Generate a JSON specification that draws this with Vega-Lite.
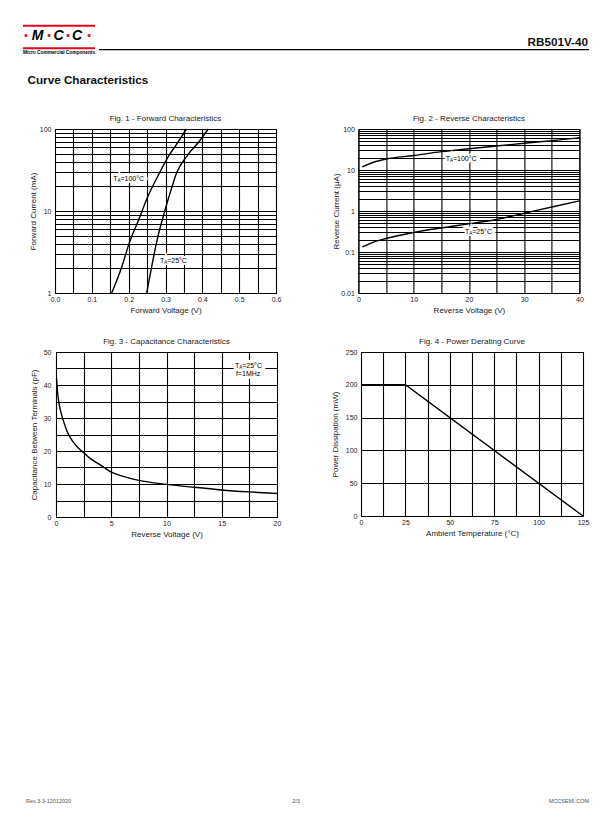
{
  "$schema": "https://vega.github.io/schema/vega-lite/v6.json",
  "padding": 0,
  "background": "white",
  "config": {
    "font": "Liberation Sans",
    "view": {"stroke": "black", "strokeWidth": 1},
    "axis": {"domain": false, "ticks": false, "grid": true, "gridColor": "black", "gridWidth": 1.1, "gridOpacity": 1,
      "labelFont": "Liberation Sans", "labelFontSize": 7, "labelColor": "#222",
      "titleFont": "Liberation Sans", "titleFontSize": 8, "titleFontWeight": "normal", "titleColor": "#222",
      "labelOverlap": false, "labelFlush": false, "labelBound": false},
    "axisX": {"labelPadding": 2, "titlePadding": 4},
    "axisY": {"labelPadding": 4},
    "title": {"fontSize": 8, "fontWeight": "normal", "font": "Liberation Sans", "color": "#222", "offset": 2.5},
    "text": {"font": "Liberation Sans"}
  },
  "datasets": {
    "hdrText": [
      {"k": "logo", "x": 36.5, "y": 34.5, "s": "M"},
      {"k": "logo", "x": 57.5, "y": 34.5, "s": "C"},
      {"k": "logo", "x": 76, "y": 34.5, "s": "C"},
      {"k": "tag", "x": 58, "y": 51.5, "s": "Micro Commercial Components"},
      {"k": "part", "x": 587, "y": 40.5, "s": "RB501V-40"},
      {"k": "section", "x": 26.5, "y": 79, "s": "Curve Characteristics"}
    ],
    "hdrDots": [{"x": 25, "y": 34.5}, {"x": 48, "y": 34.5}, {"x": 67, "y": 34.5}, {"x": 88, "y": 34.5}],
    "hdrRules": [
      {"k": "red", "x": 22, "x2": 94, "y": 24.7},
      {"k": "red", "x": 22, "x2": 94, "y": 47.3},
      {"k": "black", "x": 98, "x2": 588, "y": 48.7}
    ],
    "ftrText": [
      {"k": "left", "x": 25, "y": 800, "s": "Rev.3-3-12012020"},
      {"k": "center", "x": 295, "y": 800, "s": "2/3"},
      {"k": "right", "x": 588, "y": 800, "s": "MCCSEMI.COM"}
    ],
    "fig1": [
      {"t": "100", "v": 0.154, "i": 1}, {"t": "100", "v": 0.18, "i": 2}, {"t": "100", "v": 0.201, "i": 4},
      {"t": "100", "v": 0.228, "i": 8}, {"t": "100", "v": 0.252, "i": 15}, {"t": "100", "v": 0.28, "i": 27},
      {"t": "100", "v": 0.31, "i": 48}, {"t": "100", "v": 0.33, "i": 65}, {"t": "100", "v": 0.357, "i": 100},
      {"t": "25", "v": 0.249, "i": 1}, {"t": "25", "v": 0.265, "i": 2.4}, {"t": "25", "v": 0.28, "i": 5},
      {"t": "25", "v": 0.298, "i": 10}, {"t": "25", "v": 0.315, "i": 18}, {"t": "25", "v": 0.33, "i": 29},
      {"t": "25", "v": 0.36, "i": 48}, {"t": "25", "v": 0.394, "i": 73}, {"t": "25", "v": 0.416, "i": 100}
    ],
    "lab1": [{"v": 0.158, "i": 24.4, "rest": "=100°C"}, {"v": 0.285, "i": 2.43, "rest": "=25°C"}],
    "fig2": [
      {"t": "100", "v": 0.7, "i": 11.9}, {"t": "100", "v": 2.5, "i": 15}, {"t": "100", "v": 5, "i": 18.5},
      {"t": "100", "v": 10, "i": 22.5}, {"t": "100", "v": 15, "i": 28}, {"t": "100", "v": 20, "i": 33},
      {"t": "100", "v": 25, "i": 38.5}, {"t": "100", "v": 30, "i": 45}, {"t": "100", "v": 35, "i": 52},
      {"t": "100", "v": 40, "i": 61},
      {"t": "25", "v": 0.7, "i": 0.133}, {"t": "25", "v": 2.5, "i": 0.17}, {"t": "25", "v": 5, "i": 0.214},
      {"t": "25", "v": 10, "i": 0.3}, {"t": "25", "v": 15, "i": 0.386}, {"t": "25", "v": 20, "i": 0.485},
      {"t": "25", "v": 25, "i": 0.62}, {"t": "25", "v": 30, "i": 0.88}, {"t": "25", "v": 35, "i": 1.25},
      {"t": "25", "v": 40, "i": 1.77}
    ],
    "lab2": [{"v": 15.8, "i": 18.7, "rest": "=100°C"}, {"v": 19.3, "i": 0.3, "rest": "=25°C"}],
    "fig3": [
      {"v": 0.05, "c": 42}, {"v": 0.15, "c": 37.5}, {"v": 0.3, "c": 34}, {"v": 0.5, "c": 31},
      {"v": 0.75, "c": 28.3}, {"v": 1, "c": 26}, {"v": 1.5, "c": 23}, {"v": 2, "c": 21},
      {"v": 2.5, "c": 19.5}, {"v": 3, "c": 18}, {"v": 4, "c": 15.8}, {"v": 5, "c": 13.6},
      {"v": 6, "c": 12.4}, {"v": 7.5, "c": 11.1}, {"v": 10, "c": 9.9}, {"v": 12.5, "c": 9},
      {"v": 15, "c": 8.2}, {"v": 17.5, "c": 7.6}, {"v": 20, "c": 7.1}
    ],
    "lab3": [{"k": "t", "v": 16.2, "c": 45.9, "rest": "=25°C"}, {"k": "f", "v": 16.2, "c": 43.2, "rest": "f=1MHz"}],
    "fig4": [{"t": 0, "p": 200}, {"t": 25, "p": 200}, {"t": 125, "p": 0}]
  },
  "vconcat": [
    {
      "width": 588, "height": 90,
      "view": {"stroke": "transparent"},
      "layer": [
        {"data": {"name": "hdrRules"}, "transform": [{"filter": "datum.k == 'red'"}],
          "mark": {"type": "rule", "color": "#e3001b", "strokeWidth": 2},
          "encoding": {
            "x": {"field": "x", "type": "quantitative", "scale": {"domain": [0, 588], "nice": false, "zero": false}, "axis": null},
            "x2": {"field": "x2"},
            "y": {"field": "y", "type": "quantitative", "scale": {"domain": [0, 90], "nice": false, "zero": false, "reverse": true}, "axis": null}
          }},
        {"data": {"name": "hdrRules"}, "transform": [{"filter": "datum.k == 'black'"}],
          "mark": {"type": "rule", "color": "black", "strokeWidth": 1.2},
          "encoding": {"x": {"field": "x", "type": "quantitative"}, "x2": {"field": "x2"}, "y": {"field": "y", "type": "quantitative"}}},
        {"data": {"name": "hdrDots"},
          "mark": {"type": "square", "color": "#e3001b", "size": 7, "opacity": 1},
          "encoding": {"x": {"field": "x", "type": "quantitative"}, "y": {"field": "y", "type": "quantitative"}}},
        {"data": {"name": "hdrText"}, "transform": [{"filter": "datum.k == 'logo'"}],
          "mark": {"type": "text", "fontSize": 14, "fontWeight": "bold", "fontStyle": "italic", "align": "center", "baseline": "middle", "color": "black"},
          "encoding": {"x": {"field": "x", "type": "quantitative"}, "y": {"field": "y", "type": "quantitative"}, "text": {"field": "s"}}},
        {"data": {"name": "hdrText"}, "transform": [{"filter": "datum.k == 'tag'"}],
          "mark": {"type": "text", "fontSize": 4.8, "fontWeight": "bold", "align": "center", "baseline": "middle", "color": "black"},
          "encoding": {"x": {"field": "x", "type": "quantitative"}, "y": {"field": "y", "type": "quantitative"}, "text": {"field": "s"}}},
        {"data": {"name": "hdrText"}, "transform": [{"filter": "datum.k == 'part'"}],
          "mark": {"type": "text", "fontSize": 11.7, "fontWeight": "bold", "align": "right", "baseline": "middle", "color": "#111"},
          "encoding": {"x": {"field": "x", "type": "quantitative"}, "y": {"field": "y", "type": "quantitative"}, "text": {"field": "s"}}},
        {"data": {"name": "hdrText"}, "transform": [{"filter": "datum.k == 'section'"}],
          "mark": {"type": "text", "fontSize": 11.7, "fontWeight": "bold", "align": "left", "baseline": "middle", "color": "#111"},
          "encoding": {"x": {"field": "x", "type": "quantitative"}, "y": {"field": "y", "type": "quantitative"}, "text": {"field": "s"}}}
      ]
    },
    {
      "hconcat": [
        {"width": 26, "height": 1, "view": {"stroke": "transparent"}, "data": {"values": [{}]}, "mark": {"type": "point", "opacity": 0}},
        {
          "hconcat": [
            {
              "width": 221, "height": 164,
              "title": "Fig. 1 - Forward Characteristics",
              "layer": [
                {"data": {"name": "fig1"},
                  "mark": {"type": "line", "color": "black", "strokeWidth": 1.4, "interpolate": "monotone"},
                  "encoding": {
                    "x": {"field": "v", "type": "quantitative", "scale": {"domain": [0, 0.6], "nice": false, "zero": false},
                      "axis": {"title": "Forward Voltage (V)", "tickCount": 100, "labelOverlap": false, "values": [0, 0.05, 0.1, 0.15, 0.2, 0.25, 0.3, 0.35, 0.4, 0.45, 0.5, 0.55, 0.6],
                        "labelExpr": "abs(datum.value*10 - round(datum.value*10)) < 1e-6 ? format(datum.value, '.1f') : ''"}},
                    "y": {"field": "i", "type": "quantitative", "scale": {"type": "log", "domain": [1, 100], "nice": false},
                      "axis": {"title": "Forward Current (mA)", "tickCount": 100, "labelOverlap": false, "titlePadding": 2, "values": [1, 2, 3, 4, 5, 6, 7, 8, 9, 10, 20, 30, 40, 50, 60, 70, 80, 90, 100],
                        "labelExpr": "abs(log(datum.value)/LN10 - round(log(datum.value)/LN10)) < 1e-6 ? format(datum.value, '~g') : ''"}},
                    "detail": {"field": "t"}
                  }},
                {"data": {"name": "lab1"}, "transform": [{"calculate": "'TA' + datum.rest", "as": "full"}],
                  "mark": {"type": "text", "align": "left", "baseline": "middle", "fontSize": 7, "fill": "white", "stroke": "white", "strokeWidth": 4},
                  "encoding": {"x": {"field": "v", "type": "quantitative"}, "y": {"field": "i", "type": "quantitative"}, "text": {"field": "full"}}},
                {"data": {"name": "lab1"},
                  "mark": {"type": "text", "align": "left", "baseline": "middle", "fontSize": 7, "color": "black", "text": "T"},
                  "encoding": {"x": {"field": "v", "type": "quantitative"}, "y": {"field": "i", "type": "quantitative"}}},
                {"data": {"name": "lab1"},
                  "mark": {"type": "text", "align": "left", "baseline": "middle", "fontSize": 4.5, "color": "black", "text": "A", "dx": 4.2, "dy": 2},
                  "encoding": {"x": {"field": "v", "type": "quantitative"}, "y": {"field": "i", "type": "quantitative"}}},
                {"data": {"name": "lab1"},
                  "mark": {"type": "text", "align": "left", "baseline": "middle", "fontSize": 7, "color": "black", "dx": 7.2},
                  "encoding": {"x": {"field": "v", "type": "quantitative"}, "y": {"field": "i", "type": "quantitative"}, "text": {"field": "rest"}}}
              ]
            },
            {
              "width": 221, "height": 164,
              "title": "Fig. 2 - Reverse Characteristics",
              "layer": [
                {"data": {"name": "fig2"},
                  "mark": {"type": "line", "color": "black", "strokeWidth": 1.4, "interpolate": "monotone"},
                  "encoding": {
                    "x": {"field": "v", "type": "quantitative", "scale": {"domain": [0, 40], "nice": false, "zero": false},
                      "axis": {"title": "Reverse Voltage (V)", "tickCount": 100, "labelOverlap": false, "values": [0, 5, 10, 15, 20, 25, 30, 35, 40],
                        "labelExpr": "datum.value % 10 == 0 ? format(datum.value, 'd') : ''"}},
                    "y": {"field": "i", "type": "quantitative", "scale": {"type": "log", "domain": [0.01, 100], "nice": false},
                      "axis": {"title": "Reverse Current (μA)", "tickCount": 100, "labelOverlap": false, "titlePadding": 0.6,
                        "values": [0.01, 0.02, 0.03, 0.04, 0.05, 0.06, 0.07, 0.08, 0.09, 0.1, 0.2, 0.3, 0.4, 0.5, 0.6, 0.7, 0.8, 0.9, 1, 2, 3, 4, 5, 6, 7, 8, 9, 10, 20, 30, 40, 50, 60, 70, 80, 90, 100],
                        "labelExpr": "abs(log(datum.value)/LN10 - round(log(datum.value)/LN10)) < 1e-6 ? format(datum.value, '~g') : ''"}},
                    "detail": {"field": "t"}
                  }},
                {"data": {"name": "lab2"}, "transform": [{"calculate": "'TA' + datum.rest", "as": "full"}],
                  "mark": {"type": "text", "align": "left", "baseline": "middle", "fontSize": 7, "fill": "white", "stroke": "white", "strokeWidth": 4},
                  "encoding": {"x": {"field": "v", "type": "quantitative"}, "y": {"field": "i", "type": "quantitative"}, "text": {"field": "full"}}},
                {"data": {"name": "lab2"},
                  "mark": {"type": "text", "align": "left", "baseline": "middle", "fontSize": 7, "color": "black", "text": "T"},
                  "encoding": {"x": {"field": "v", "type": "quantitative"}, "y": {"field": "i", "type": "quantitative"}}},
                {"data": {"name": "lab2"},
                  "mark": {"type": "text", "align": "left", "baseline": "middle", "fontSize": 4.5, "color": "black", "text": "A", "dx": 4.2, "dy": 2},
                  "encoding": {"x": {"field": "v", "type": "quantitative"}, "y": {"field": "i", "type": "quantitative"}}},
                {"data": {"name": "lab2"},
                  "mark": {"type": "text", "align": "left", "baseline": "middle", "fontSize": 7, "color": "black", "dx": 7.2},
                  "encoding": {"x": {"field": "v", "type": "quantitative"}, "y": {"field": "i", "type": "quantitative"}, "text": {"field": "rest"}}}
              ]
            }
          ],
          "spacing": 49.4
        }
      ],
      "spacing": 0
    },
    {
      "hconcat": [
        {"width": 26.7, "height": 1, "view": {"stroke": "transparent"}, "data": {"values": [{}]}, "mark": {"type": "point", "opacity": 0}},
        {
          "hconcat": [
            {
              "width": 221, "height": 165,
              "title": "Fig. 3 - Capacitance Characteristics",
              "layer": [
                {"data": {"name": "fig3"},
                  "mark": {"type": "line", "color": "black", "strokeWidth": 1.4, "interpolate": "monotone"},
                  "encoding": {
                    "x": {"field": "v", "type": "quantitative", "scale": {"domain": [0, 20], "nice": false, "zero": false},
                      "axis": {"title": "Reverse Voltage (V)", "tickCount": 100, "labelOverlap": false, "values": [0, 2.5, 5, 7.5, 10, 12.5, 15, 17.5, 20],
                        "labelExpr": "datum.value % 5 == 0 ? format(datum.value, 'd') : ''"}},
                    "y": {"field": "c", "type": "quantitative", "scale": {"domain": [0, 50], "nice": false},
                      "axis": {"title": "Capacitance Between Terminals (pF)", "tickCount": 100, "labelOverlap": false, "titlePadding": 5, "labelPadding": 5,
                        "values": [0, 5, 10, 15, 20, 25, 30, 35, 40, 45, 50],
                        "labelExpr": "datum.value % 10 == 0 ? format(datum.value, 'd') : ''"}}
                  }},
                {"data": {"name": "lab3"}, "transform": [{"calculate": "datum.k == 't' ? 'TA' + datum.rest : datum.rest", "as": "full"}],
                  "mark": {"type": "text", "align": "left", "baseline": "middle", "fontSize": 7, "fill": "white", "stroke": "white", "strokeWidth": 6},
                  "encoding": {"x": {"field": "v", "type": "quantitative"}, "y": {"field": "c", "type": "quantitative"}, "text": {"field": "full"}}},
                {"data": {"name": "lab3"}, "transform": [{"filter": "datum.k == 't'"}],
                  "mark": {"type": "text", "align": "left", "baseline": "middle", "fontSize": 7, "color": "black", "text": "T"},
                  "encoding": {"x": {"field": "v", "type": "quantitative"}, "y": {"field": "c", "type": "quantitative"}}},
                {"data": {"name": "lab3"}, "transform": [{"filter": "datum.k == 't'"}],
                  "mark": {"type": "text", "align": "left", "baseline": "middle", "fontSize": 4.5, "color": "black", "text": "A", "dx": 4.2, "dy": 2},
                  "encoding": {"x": {"field": "v", "type": "quantitative"}, "y": {"field": "c", "type": "quantitative"}}},
                {"data": {"name": "lab3"}, "transform": [{"filter": "datum.k == 't'"}],
                  "mark": {"type": "text", "align": "left", "baseline": "middle", "fontSize": 7, "color": "black", "dx": 7.2},
                  "encoding": {"x": {"field": "v", "type": "quantitative"}, "y": {"field": "c", "type": "quantitative"}, "text": {"field": "rest"}}},
                {"data": {"name": "lab3"}, "transform": [{"filter": "datum.k == 'f'"}],
                  "mark": {"type": "text", "align": "left", "baseline": "middle", "fontSize": 7, "color": "black", "dx": 1},
                  "encoding": {"x": {"field": "v", "type": "quantitative"}, "y": {"field": "c", "type": "quantitative"}, "text": {"field": "rest"}}}
              ]
            },
            {
              "width": 222, "height": 164,
              "title": "Fig. 4 - Power Derating Curve",
              "data": {"name": "fig4"},
              "mark": {"type": "line", "color": "black", "strokeWidth": 1.4},
              "encoding": {
                "x": {"field": "t", "type": "quantitative", "scale": {"domain": [0, 125], "nice": false, "zero": false},
                  "axis": {"title": "Ambient Temperature (°C)", "tickCount": 100, "labelOverlap": false, "values": [0, 12.5, 25, 37.5, 50, 62.5, 75, 87.5, 100, 112.5, 125],
                    "labelExpr": "datum.value % 25 == 0 ? format(datum.value, 'd') : ''"}},
                "y": {"field": "p", "type": "quantitative", "scale": {"domain": [0, 250], "nice": false},
                  "axis": {"title": "Power Dissipation (mW)", "tickCount": 100, "labelOverlap": false, "titlePadding": 6, "values": [0, 50, 100, 150, 200, 250],
                    "labelExpr": "format(datum.value, 'd')"}}
              }
            }
          ],
          "spacing": 48
        }
      ],
      "spacing": 0
    },
    {
      "width": 588, "height": 250,
      "view": {"stroke": "transparent"},
      "layer": [
        {"data": {"name": "ftrText"}, "transform": [{"filter": "datum.k == 'left'"}],
          "mark": {"type": "text", "fontSize": 5.5, "align": "left", "baseline": "middle", "color": "#555"},
          "encoding": {
            "x": {"field": "x", "type": "quantitative", "scale": {"domain": [0, 588], "nice": false, "zero": false}, "axis": null},
            "y": {"field": "y", "type": "quantitative", "scale": {"domain": [561, 811], "nice": false, "zero": false, "reverse": true}, "axis": null},
            "text": {"field": "s"}}},
        {"data": {"name": "ftrText"}, "transform": [{"filter": "datum.k == 'center'"}],
          "mark": {"type": "text", "fontSize": 5.5, "align": "center", "baseline": "middle", "color": "#555"},
          "encoding": {"x": {"field": "x", "type": "quantitative"}, "y": {"field": "y", "type": "quantitative"}, "text": {"field": "s"}}},
        {"data": {"name": "ftrText"}, "transform": [{"filter": "datum.k == 'right'"}],
          "mark": {"type": "text", "fontSize": 5.5, "align": "right", "baseline": "middle", "color": "#555"},
          "encoding": {"x": {"field": "x", "type": "quantitative"}, "y": {"field": "y", "type": "quantitative"}, "text": {"field": "s"}}}
      ]
    }
  ],
  "spacing": 22
}
